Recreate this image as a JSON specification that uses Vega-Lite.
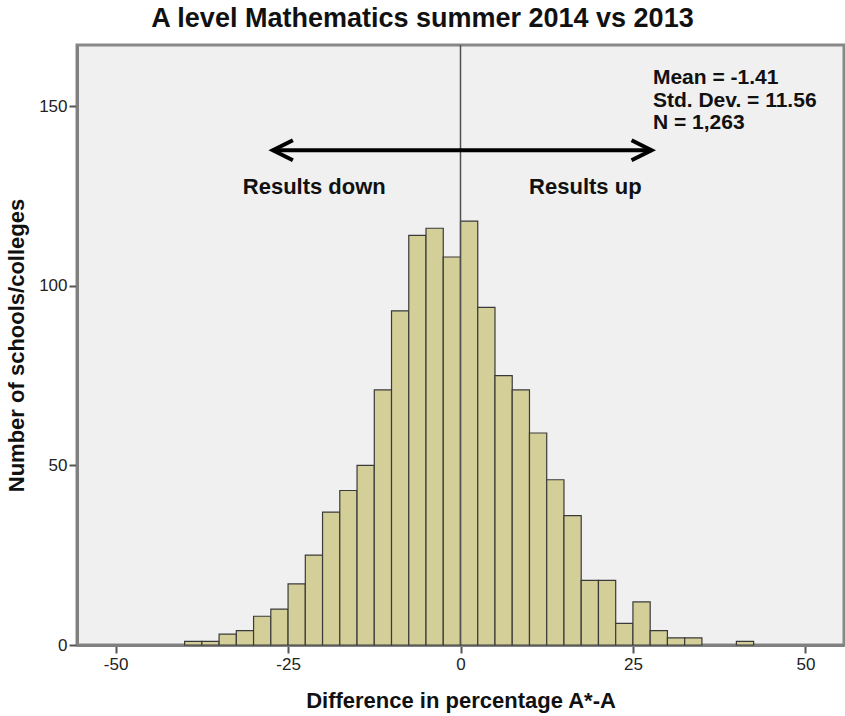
{
  "$schema": "https://vega.github.io/schema/vega-lite/v6.json",
  "autosize": {"type": "none"},
  "width": 767,
  "height": 600,
  "padding": {"left": 77, "top": 45, "right": 1, "bottom": 71},
  "background": "#ffffff",
  "config": {
    "font": "Liberation Sans",
    "view": {"fill": "#f0f0f0", "stroke": "#888888", "strokeWidth": 3},
    "axis": {"grid": false}
  },
  "title": {
    "text": "A level Mathematics summer 2014 vs 2013",
    "font": "Liberation Sans",
    "fontSize": 27,
    "fontWeight": "bold",
    "color": "#111111",
    "offset": 11,
    "dx": -38,
    "anchor": "middle"
  },
  "datasets": {
    "bins": [
      {"start": -40, "end": -37.5, "count": 1},
      {"start": -37.5, "end": -35, "count": 1},
      {"start": -35, "end": -32.5, "count": 3},
      {"start": -32.5, "end": -30, "count": 4},
      {"start": -30, "end": -27.5, "count": 8},
      {"start": -27.5, "end": -25, "count": 10},
      {"start": -25, "end": -22.5, "count": 17},
      {"start": -22.5, "end": -20, "count": 25},
      {"start": -20, "end": -17.5, "count": 37},
      {"start": -17.5, "end": -15, "count": 43},
      {"start": -15, "end": -12.5, "count": 50},
      {"start": -12.5, "end": -10, "count": 71},
      {"start": -10, "end": -7.5, "count": 93},
      {"start": -7.5, "end": -5, "count": 114},
      {"start": -5, "end": -2.5, "count": 116},
      {"start": -2.5, "end": 0, "count": 108},
      {"start": 0, "end": 2.5, "count": 118},
      {"start": 2.5, "end": 5, "count": 94},
      {"start": 5, "end": 7.5, "count": 75},
      {"start": 7.5, "end": 10, "count": 71},
      {"start": 10, "end": 12.5, "count": 59},
      {"start": 12.5, "end": 15, "count": 46},
      {"start": 15, "end": 17.5, "count": 36},
      {"start": 17.5, "end": 20, "count": 18},
      {"start": 20, "end": 22.5, "count": 18},
      {"start": 22.5, "end": 25, "count": 6},
      {"start": 25, "end": 27.5, "count": 12},
      {"start": 27.5, "end": 30, "count": 4},
      {"start": 30, "end": 32.5, "count": 2},
      {"start": 32.5, "end": 35, "count": 2},
      {"start": 40, "end": 42.5, "count": 1}
    ]
  },
  "layer": [
    {
      "data": {"name": "bins"},
      "mark": {"type": "rect", "fill": "#d4cf98", "stroke": "#3a3a3a", "strokeWidth": 1.2},
      "encoding": {
        "x": {
          "field": "start", "type": "quantitative",
          "scale": {"domain": [-55.6, 55.6], "nice": false, "zero": false},
          "axis": {
            "values": [-50, -25, 0, 25, 50],
            "labelExpr": "datum.value < 0 ? '-' + abs(datum.value) : '' + datum.value",
            "title": "Difference in percentage A*-A",
            "titleFont": "Liberation Sans", "titleFontSize": 22, "titleFontWeight": "bold", "titleColor": "#111111",
            "titlePadding": 18,
            "labelFont": "Liberation Sans", "labelFontSize": 17, "labelColor": "#222222", "labelPadding": 3,
            "domainColor": "#808080", "domainWidth": 3,
            "tickColor": "#555555", "tickWidth": 2, "tickSize": 8
          }
        },
        "x2": {"field": "end"},
        "y": {
          "field": "count", "type": "quantitative",
          "scale": {"domain": [0, 167], "nice": false},
          "axis": {
            "values": [0, 50, 100, 150],
            "title": "Number of schools/colleges",
            "titleFont": "Liberation Sans", "titleFontSize": 22, "titleFontWeight": "bold", "titleColor": "#111111",
            "titlePadding": 10,
            "labelFont": "Liberation Sans", "labelFontSize": 17, "labelColor": "#222222", "labelPadding": 2,
            "domainColor": "#808080", "domainWidth": 3,
            "tickColor": "#555555", "tickWidth": 2, "tickSize": 8
          }
        },
        "y2": {"datum": 0}
      }
    },
    {
      "data": {"values": [{"x": 0}]},
      "mark": {"type": "rule", "color": "#505050", "strokeWidth": 1.5},
      "encoding": {"x": {"field": "x", "type": "quantitative"}}
    },
    {
      "data": {"values": [{"x1": -27.2, "x2": 27.7, "y": 137.7}]},
      "mark": {"type": "rule", "color": "#000000", "strokeWidth": 4},
      "encoding": {
        "x": {"field": "x1", "type": "quantitative"},
        "x2": {"field": "x2"},
        "y": {"field": "y", "type": "quantitative"}
      }
    },
    {
      "data": {"values": [{"x": -27.2, "y": 137.7}]},
      "mark": {"type": "point", "shape": "M 1 -0.5 L 0 0 L 1 0.5", "size": 1600, "filled": false, "stroke": "#000000", "strokeWidth": 4, "opacity": 1},
      "encoding": {
        "x": {"field": "x", "type": "quantitative"},
        "y": {"field": "y", "type": "quantitative"}
      }
    },
    {
      "data": {"values": [{"x": 27.7, "y": 137.7}]},
      "mark": {"type": "point", "shape": "M -1 -0.5 L 0 0 L -1 0.5", "size": 1600, "filled": false, "stroke": "#000000", "strokeWidth": 4, "opacity": 1},
      "encoding": {
        "x": {"field": "x", "type": "quantitative"},
        "y": {"field": "y", "type": "quantitative"}
      }
    },
    {
      "data": {"values": [
        {"x": -21.2, "y": 125.6, "label": "Results down"},
        {"x": 18.1, "y": 125.6, "label": "Results up"}
      ]},
      "mark": {"type": "text", "font": "Liberation Sans", "fontSize": 22, "fontWeight": "bold", "color": "#111111", "align": "center", "baseline": "alphabetic"},
      "encoding": {
        "x": {"field": "x", "type": "quantitative"},
        "y": {"field": "y", "type": "quantitative"},
        "text": {"field": "label"}
      }
    },
    {
      "data": {"values": [
        {"x": 27.9, "y": 156.2, "label": "Mean = -1.41"},
        {"x": 27.9, "y": 149.7, "label": "Std. Dev. = 11.56"},
        {"x": 27.9, "y": 143.7, "label": "N = 1,263"}
      ]},
      "mark": {"type": "text", "font": "Liberation Sans", "fontSize": 21, "fontWeight": "bold", "color": "#111111", "align": "left", "baseline": "alphabetic"},
      "encoding": {
        "x": {"field": "x", "type": "quantitative"},
        "y": {"field": "y", "type": "quantitative"},
        "text": {"field": "label"}
      }
    }
  ]
}
